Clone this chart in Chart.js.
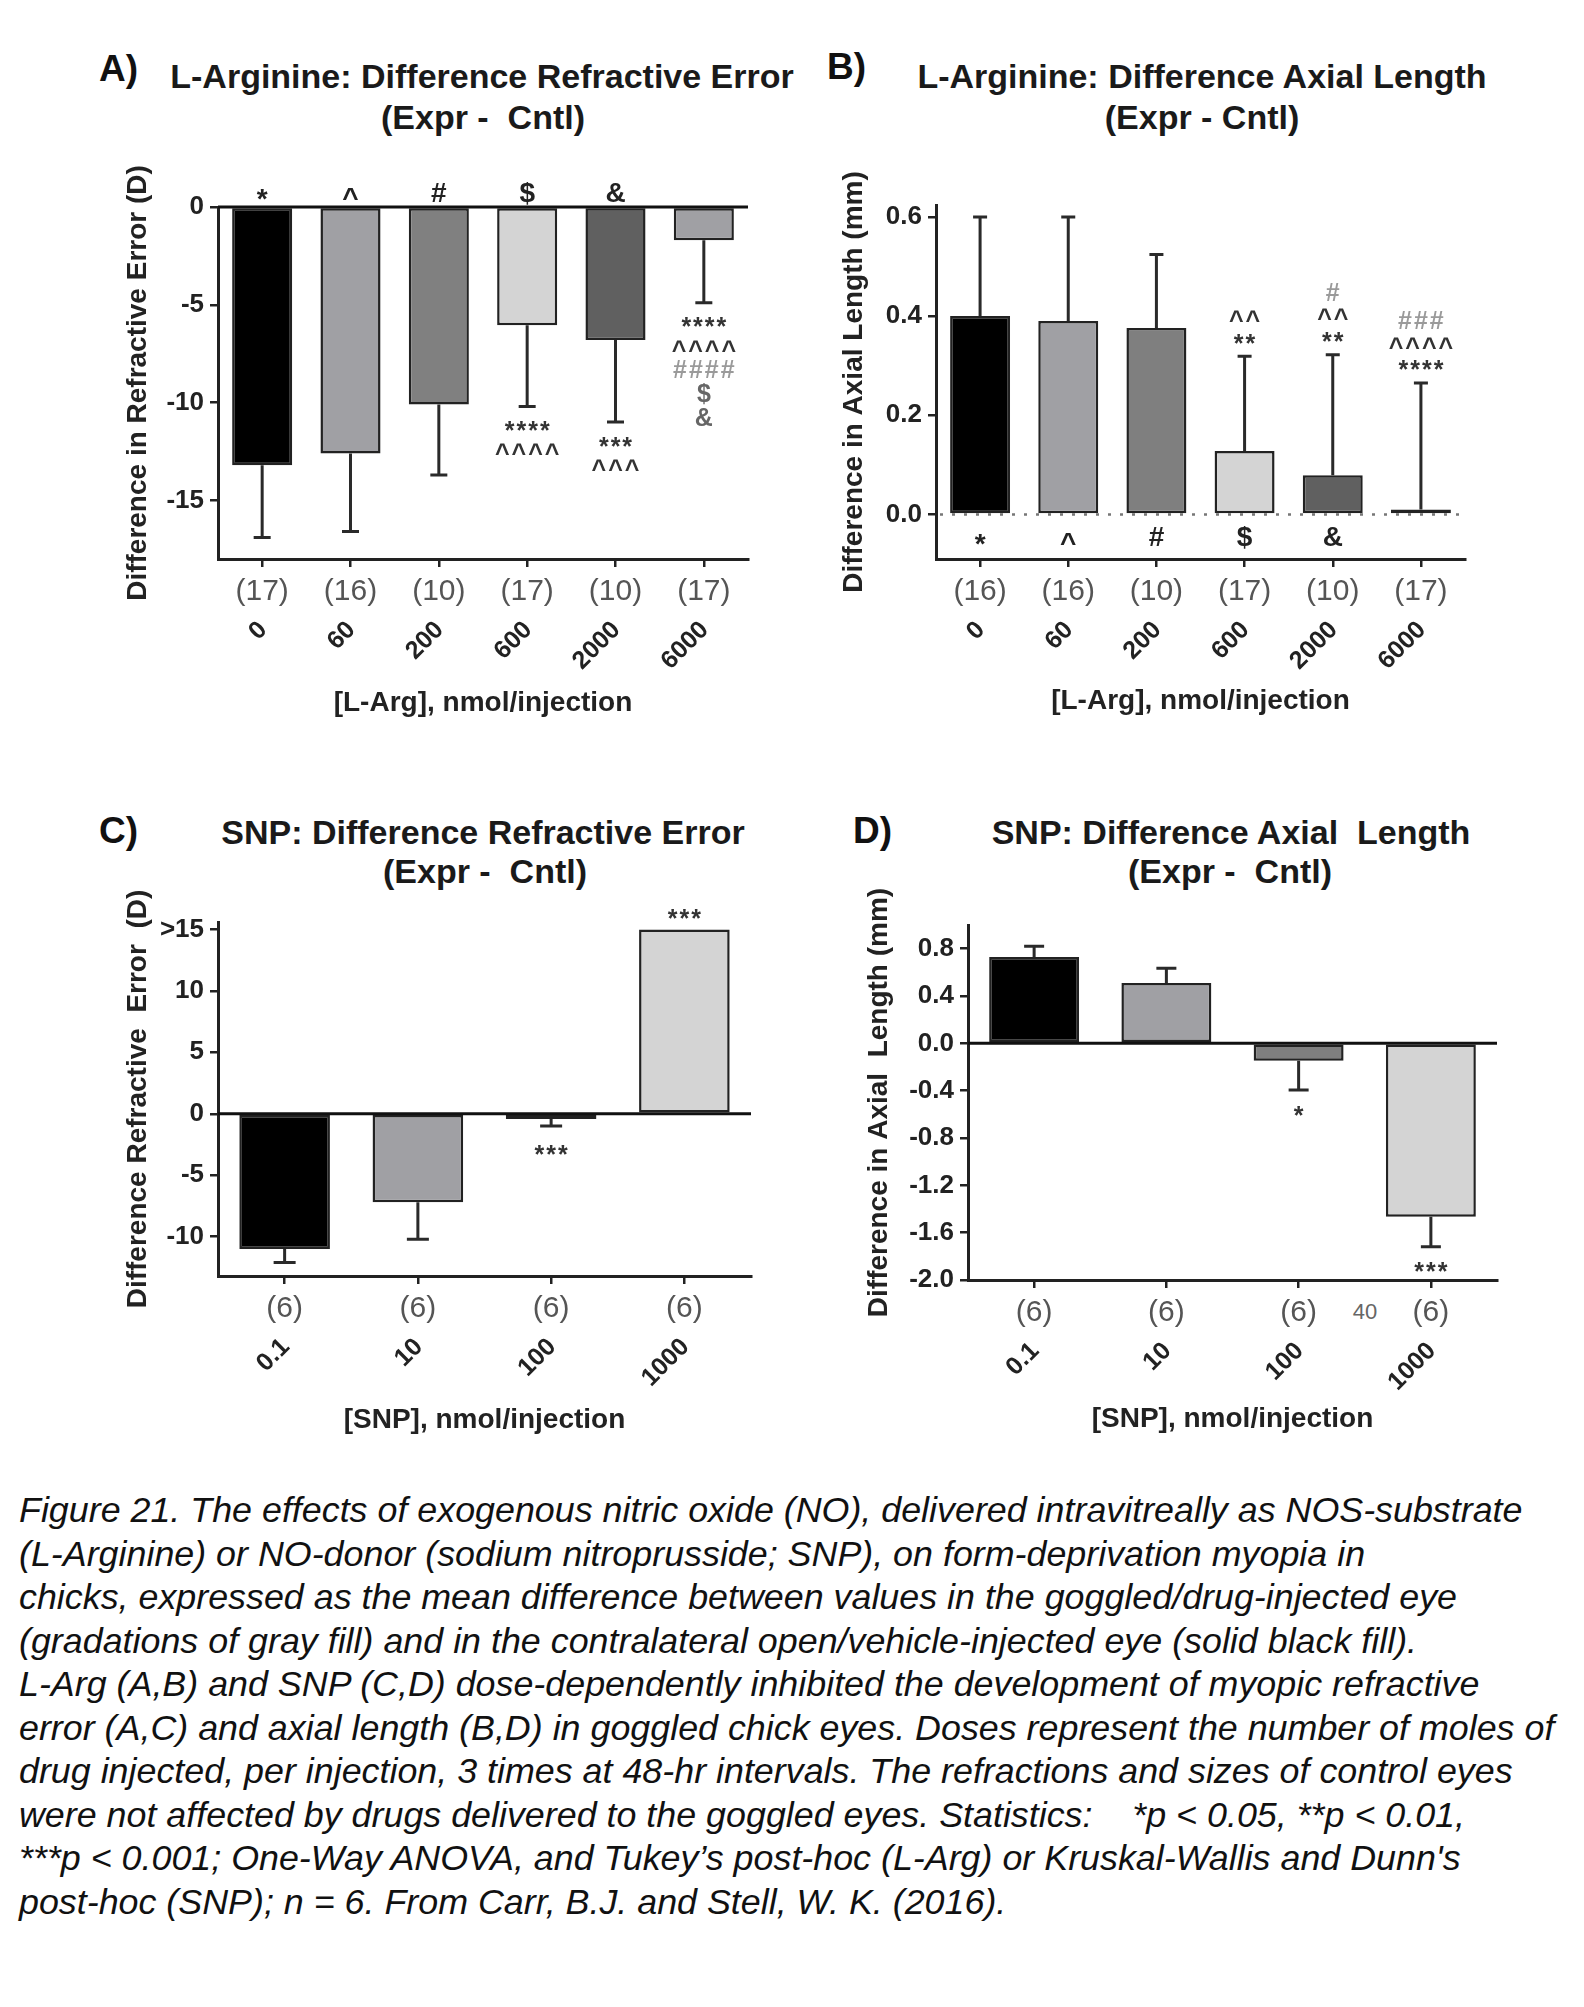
<!DOCTYPE html>
<html><head><meta charset="utf-8">
<script src="https://cdn.jsdelivr.net/npm/chart.js@4.4.0/dist/chart.umd.min.js"></script>
<style>
html,body{margin:0;padding:0;background:#fff;}
#page{position:relative;width:1584px;height:2007px;overflow:hidden;background:#fff;font-family:"Liberation Sans",Arial,Helvetica,sans-serif;}
canvas{position:absolute;}
.t{position:absolute;transform:translate(-50%,-50%);white-space:pre;font-weight:bold;color:#1a1a1a;font-size:34px;line-height:1;}
.lt{position:absolute;transform:translateY(-50%);font-weight:bold;color:#111;font-size:37px;line-height:1;}
.cap{position:absolute;left:19px;white-space:pre;font-style:italic;color:#111;transform:translateY(-50%);line-height:1;}
.pg{position:absolute;transform:translate(-50%,-50%);color:#666;font-size:22px;}
</style></head><body><div id="page">
<div class="lt" style="left:99px;top:68px">A)</div>
<div class="t" style="left:482px;top:76px">L-Arginine: Difference Refractive Error</div>
<div class="t" style="left:483px;top:117px">(Expr -  Cntl)</div>
<div class="lt" style="left:827px;top:66px">B)</div>
<div class="t" style="left:1202px;top:76px">L-Arginine: Difference Axial Length</div>
<div class="t" style="left:1202px;top:117px">(Expr - Cntl)</div>
<div class="lt" style="left:99px;top:830px">C)</div>
<div class="t" style="left:483px;top:832px">SNP: Difference Refractive Error</div>
<div class="t" style="left:485px;top:871px">(Expr -  Cntl)</div>
<div class="lt" style="left:853px;top:830px">D)</div>
<div class="t" style="left:1231px;top:832px">SNP: Difference Axial  Length</div>
<div class="t" style="left:1230px;top:871px">(Expr -  Cntl)</div>
<div class="pg" style="left:1365px;top:1312px">40</div>
<canvas id="cA"></canvas><canvas id="cB"></canvas><canvas id="cC"></canvas><canvas id="cD"></canvas>
<div id="caption"></div>
</div>
<script>
// ---------------- DATA ----------------
const argDoses = ['0', '60', '200', '600', '2000', '6000'];
const argRefN = ['(17)', '(16)', '(10)', '(17)', '(10)', '(17)'];
const argRefMean = [-13.2, -12.6, -10.1, -6.05, -6.8, -1.7];
const argRefErr = [-16.9, -16.6, -13.7, -10.2, -11.0, -4.9];
const argRefTicks = [0, -5, -10, -15];
const argRefTickLabels = ['0', '-5', '-10', '-15'];
const argRefGroupMarks = ['*', '^', '#', '$', '&', ''];
const argRefSig = [[], [], [], ['****', '^^^^'], ['***', '^^^'], ['****', '^^^^', '####', '$', '&']];

const argAxN = ['(16)', '(16)', '(10)', '(17)', '(10)', '(17)'];
const argAxMean = [0.40, 0.39, 0.376, 0.128, 0.079, 0.01];
const argAxErr = [0.60, 0.60, 0.524, 0.319, 0.322, 0.265];
const argAxTicks = [0.0, 0.2, 0.4, 0.6];
const argAxTickLabels = ['0.0', '0.2', '0.4', '0.6'];
const argAxGroupMarks = ['*', '^', '#', '$', '&', ''];
const argAxSig = [[], [], [], ['^^', '**'], ['#', '^^', '**'], ['###', '^^^^', '****']];

const snpDoses = ['0.1', '10', '100', '1000'];
const snpN = ['(6)', '(6)', '(6)', '(6)'];
const snpRefMean = [-11.0, -7.2, -0.42, 15.0];
const snpRefErr = [-12.1, -10.2, -1.0, null];
const snpRefTicks = [15, 10, 5, 0, -5, -10];
const snpRefTickLabels = ['>15', '10', '5', '0', '-5', '-10'];
const snpRefSig = [[], [], ['***'], ['***']];

const snpAxMean = [0.73, 0.51, -0.148, -1.465];
const snpAxErr = [0.82, 0.635, -0.395, -1.72];
const snpAxTicks = [0.8, 0.4, 0.0, -0.4, -0.8, -1.2, -1.6, -2.0];
const snpAxTickLabels = ['0.8', '0.4', '0.0', '-0.4', '-0.8', '-1.2', '-1.6', '-2.0'];
const snpAxSig = [[], [], ['*'], ['***']];

const captionLines = [
  'Figure 21. The effects of exogenous nitric oxide (NO), delivered intravitreally as NOS-substrate',
  '(L-Arginine) or NO-donor (sodium nitroprusside; SNP), on form-deprivation myopia in',
  'chicks, expressed as the mean difference between values in the goggled/drug-injected eye',
  '(gradations of gray fill) and in the contralateral open/vehicle-injected eye (solid black fill).',
  'L-Arg (A,B) and SNP (C,D) dose-dependently inhibited the development of myopic refractive',
  'error (A,C) and axial length (B,D) in goggled chick eyes. Doses represent the number of moles of',
  'drug injected, per injection, 3 times at 48-hr intervals. The refractions and sizes of control eyes',
  'were not affected by drugs delivered to the goggled eyes. Statistics:    *p < 0.05, **p < 0.01,',
  '***p < 0.001; One-Way ANOVA, and Tukey\u2019s post-hoc (L-Arg) or Kruskal-Wallis and Dunn\'s',
  'post-hoc (SNP); n = 6. From Carr, B.J. and Stell, W. K. (2016).'
];

// ---------------- STYLE ----------------
const FONT = '"Liberation Sans", Arial, Helvetica, sans-serif';
const argColors = ['#000000', '#a0a0a4', '#808080', '#d4d4d4', '#606060', '#a0a0a4'];
const argAxColors = ['#000000', '#a0a0a4', '#7f7f7f', '#d4d4d4', '#606060', '#000000'];
const snpColors = ['#000000', '#a0a0a4', '#7f7f7f', '#d4d4d4'];
const INK = '#222';
const SIG_SIZE = 25, MARK_SIZE = 28, DOSE_SIZE = 25, YTICK_SIZE = 26;

function glyphOffset(s) {
  const c = s.charAt(0);
  if (c === '*') return 0.58;
  if (c === '^') return 0.55;
  return 0.36;
}
function sigColor(s) {
  const c = s.charAt(0);
  if (c === '#') return '#9a9a9a';
  if (c === '$' || c === '&') return '#666';
  return '#333';
}

function makePanel(p) {
  const cv = document.getElementById(p.id);
  cv.width = p.w; cv.height = p.h;
  cv.style.left = p.left + 'px'; cv.style.top = p.top + 'px';
  cv.style.width = p.w + 'px'; cv.style.height = p.h + 'px';
  const a = p.area;

  const plugin = {
    id: 'deco_' + p.id,
    beforeDatasetsDraw(chart) {
      const ctx = chart.ctx, ys = chart.scales.y, ca = chart.chartArea;
      if (p.zero === 'dotted') {
        const y0 = ys.getPixelForValue(0);
        ctx.save();
        ctx.strokeStyle = '#777'; ctx.lineWidth = 2.5; ctx.setLineDash([3, 9]);
        ctx.beginPath(); ctx.moveTo(ca.left + 4, y0); ctx.lineTo(ca.right, y0); ctx.stroke();
        ctx.restore();
      }
    },
    afterDatasetsDraw(chart) {
      const ctx = chart.ctx, xs = chart.scales.x, ys = chart.scales.y, ca = chart.chartArea;
      const meta = chart.getDatasetMeta(0);
      const y0 = ys.getPixelForValue(0);
      if (p.zero === 'solid') {
        ctx.save(); ctx.strokeStyle = '#111'; ctx.lineWidth = 3;
        ctx.beginPath(); ctx.moveTo(ca.left, y0); ctx.lineTo(ca.right, y0); ctx.stroke(); ctx.restore();
      }
      // error bars
      ctx.save();
      ctx.strokeStyle = '#2a2a2a'; ctx.lineWidth = 3;
      meta.data.forEach((bar, i) => {
        const e = p.errs[i];
        if (e === null || e === undefined) return;
        const yb = ys.getPixelForValue(p.means[i]);
        const ye = ys.getPixelForValue(e);
        ctx.beginPath(); ctx.moveTo(bar.x, yb); ctx.lineTo(bar.x, ye);
        ctx.moveTo(bar.x - p.capW / 2, ye); ctx.lineTo(bar.x + p.capW / 2, ye);
        ctx.stroke();
      });
      ctx.restore();
      // rotated dose labels
      ctx.save();
      ctx.fillStyle = INK; ctx.font = 'bold ' + DOSE_SIZE + 'px ' + FONT;
      ctx.textAlign = 'right'; ctx.textBaseline = 'middle';
      p.doses.forEach((d, i) => {
        const x = xs.getPixelForValue(i);
        ctx.save(); ctx.translate(x + 1, ca.bottom + 67); ctx.rotate(-Math.PI / 4);
        ctx.fillText(d, 0, 0); ctx.restore();
      });
      ctx.restore();
      // group marks
      if (p.groupMarks) {
        ctx.save(); ctx.fillStyle = '#222'; ctx.font = 'bold ' + MARK_SIZE + 'px ' + FONT;
        ctx.textAlign = 'center'; ctx.textBaseline = 'alphabetic';
        p.groupMarks.forEach((m, i) => {
          if (!m) return;
          const x = xs.getPixelForValue(i);
          const cy = y0 + p.markOffset;
          ctx.fillText(m, x, cy + glyphOffset(m) * MARK_SIZE);
        });
        ctx.restore();
      }
      // significance lines
      ctx.save(); ctx.font = 'bold ' + SIG_SIZE + 'px ' + FONT;
      ctx.textAlign = 'center'; ctx.textBaseline = 'alphabetic';
      try { ctx.letterSpacing = '2px'; } catch (err) {}
      p.sig.forEach((lines, i) => {
        if (!lines.length) return;
        const x = xs.getPixelForValue(i);
        const tipVal = (p.errs[i] === null || p.errs[i] === undefined) ? p.means[i] : p.errs[i];
        const tip = ys.getPixelForValue(tipVal);
        const n = lines.length;
        lines.forEach((s, k) => {
          let cy;
          if (p.means[i] < 0) cy = tip + p.sigGapDown + k * p.sigStep;
          else cy = tip - p.sigGapUp - (n - 1 - k) * p.sigStep;
          ctx.fillStyle = sigColor(s);
          ctx.fillText(s, x + 1, cy + glyphOffset(s) * SIG_SIZE);
        });
      });
      ctx.restore();
    }
  };

  return new Chart(cv.getContext('2d'), {
    type: 'bar',
    data: {
      labels: p.doses,
      datasets: [{
        data: p.means,
        backgroundColor: p.colors,
        borderColor: '#222',
        borderWidth: 2.5,
        borderSkipped: false,
        barPercentage: 0.68,
        categoryPercentage: 1.0
      }]
    },
    options: {
      responsive: false, animation: false, devicePixelRatio: 1,
      layout: { padding: { top: a.t, right: p.w - a.r, bottom: 0, left: 0 } },
      plugins: { legend: { display: false }, tooltip: { enabled: false }, title: { display: false } },
      scales: {
        x: {
          offset: true,
          grid: { display: true, offset: false, drawOnChartArea: false, drawTicks: true, tickLength: 8, color: INK, lineWidth: 2.5 },
          border: { display: true, color: INK, width: 3 },
          ticks: {
            display: true, color: '#555', font: { family: FONT, size: 30 }, padding: 7,
            maxRotation: 0, minRotation: 0, autoSkip: false,
            callback: (v, i) => p.ns[i]
          },
          title: { display: true, text: p.xTitle, color: INK, font: { family: FONT, size: 28, weight: 'bold' }, padding: { top: 0, bottom: p.xTitlePad } },
          afterFit: s => { s.height = p.h - a.b; }
        },
        y: {
          min: p.yMin, max: p.yMax,
          afterBuildTicks: s => { s.ticks = p.yTicks.map(v => ({ value: v })); },
          grid: { display: true, drawOnChartArea: false, drawTicks: true, tickLength: 8, color: INK, lineWidth: 2.5 },
          border: { display: true, color: INK, width: 3 },
          ticks: {
            color: INK, font: { family: FONT, size: YTICK_SIZE, weight: 'bold' }, padding: 6,
            callback: (v, i) => p.yTickLabels[i]
          },
          title: { display: true, text: p.yTitle, color: INK, font: { family: FONT, size: 28, weight: 'bold' }, padding: { top: p.yTitlePad, bottom: 0 } },
          afterFit: s => { s.width = a.l; }
        }
      }
    },
    plugins: [plugin]
  });
}

makePanel({
  id: 'cA', left: 0, top: 0, w: 790, h: 760,
  area: { l: 218, t: 207, r: 748, b: 559 },
  yMin: -18, yMax: 0, yTicks: argRefTicks, yTickLabels: argRefTickLabels,
  yTitle: 'Difference in Refractive Error (D)', yTitlePad: 121,
  xTitle: '[L-Arg], nmol/injection', xTitlePad: 40,
  doses: argDoses, ns: argRefN, means: argRefMean, errs: argRefErr, colors: argColors,
  zero: 'solid', capW: 17, groupMarks: argRefGroupMarks, markOffset: -15,
  sig: argRefSig, sigGapDown: 18, sigGapUp: 19, sigStep: 24
});
makePanel({
  id: 'cB', left: 790, top: 0, w: 794, h: 760,
  area: { l: 146, t: 205, r: 675, b: 559 },
  yMin: -0.09, yMax: 0.624, yTicks: argAxTicks, yTickLabels: argAxTickLabels,
  yTitle: 'Difference in Axial Length (mm)', yTitlePad: 47,
  xTitle: '[L-Arg], nmol/injection', xTitlePad: 42,
  doses: argDoses, ns: argAxN, means: argAxMean, errs: argAxErr, colors: argAxColors,
  zero: 'dotted', capW: 14, groupMarks: argAxGroupMarks, markOffset: 22,
  sig: argAxSig, sigGapDown: 17, sigGapUp: 19, sigStep: 22
});
makePanel({
  id: 'cC', left: 0, top: 760, w: 790, h: 700,
  area: { l: 218, t: 162, r: 751, b: 516 },
  yMin: -13.2, yMax: 15.6, yTicks: snpRefTicks, yTickLabels: snpRefTickLabels,
  yTitle: 'Difference Refractive  Error  (D)', yTitlePad: 121,
  xTitle: '[SNP], nmol/injection', xTitlePad: 23,
  doses: snpDoses, ns: snpN, means: snpRefMean, errs: snpRefErr, colors: snpColors,
  zero: 'solid', capW: 22, groupMarks: null, markOffset: 0,
  sig: snpRefSig, sigGapDown: 22, sigGapUp: 17, sigStep: 22
});
makePanel({
  id: 'cD', left: 790, top: 760, w: 794, h: 700,
  area: { l: 178, t: 165, r: 707, b: 520 },
  yMin: -2.0, yMax: 1.0, yTicks: snpAxTicks, yTickLabels: snpAxTickLabels,
  yTitle: 'Difference in Axial  Length (mm)', yTitlePad: 72,
  xTitle: '[SNP], nmol/injection', xTitlePad: 24,
  doses: snpDoses, ns: snpN, means: snpAxMean, errs: snpAxErr, colors: snpColors,
  zero: 'solid', capW: 20, groupMarks: null, markOffset: 0,
  sig: snpAxSig, sigGapDown: 19, sigGapUp: 17, sigStep: 22
});

// caption
(function () {
  const cap = document.getElementById('caption');
  const mc = document.createElement('canvas').getContext('2d');
  mc.font = 'italic 30px ' + FONT;
  const w1 = mc.measureText(captionLines[0]).width;
  const size = 30 * 1504 / w1;
  const y0 = 1511, step = 43.5;
  captionLines.forEach((t, i) => {
    const d = document.createElement('div');
    d.className = 'cap';
    d.style.top = (y0 + i * step) + 'px';
    d.style.fontSize = size.toFixed(2) + 'px';
    d.textContent = t;
    cap.appendChild(d);
  });
})();
</script>
</body></html>
